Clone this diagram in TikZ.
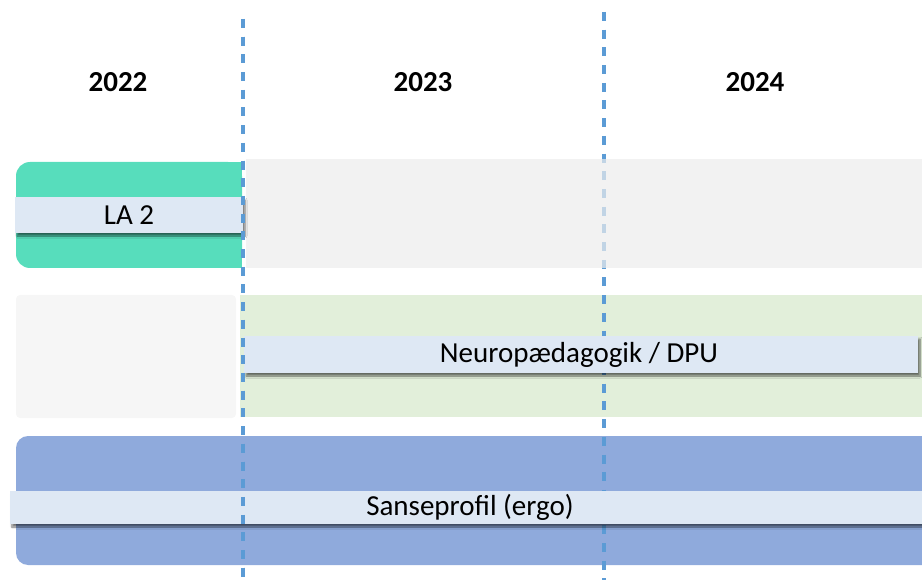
\documentclass[tikz,border=0pt]{standalone}
\usepackage{fontspec}
\setmainfont{Carlito}
\usetikzlibrary{shadows.blur}
\definecolor{tealgreen}{RGB}{87,221,188}
\definecolor{rowgray}{RGB}{237,237,237}
\definecolor{palegray}{RGB}{246,246,246}
\definecolor{palegreen}{RGB}{226,239,218}
\definecolor{labelblue}{RGB}{222,232,244}
\definecolor{bandblue}{RGB}{143,170,220}
\definecolor{dashblue}{RGB}{91,155,213}
\begin{document}
\begin{tikzpicture}[x=1pt,y=-1pt,
  year/.style={font=\fontsize{29}{32}\selectfont\bfseries, text=black},
  bar/.style={fill=labelblue, draw=none, inner sep=0pt,
    font=\fontsize{29}{32}\selectfont, text=black,
    blur shadow={shadow xshift=2pt, shadow yshift=-3pt, shadow blur radius=2pt, shadow blur steps=6, shadow opacity=55}},
  yearline/.style={dashblue, line width=3.4pt, dash pattern=on 9pt off 8.7pt}]
\useasboundingbox (0,0) rectangle (922,580);
% year labels
\node[year] (y22) at (118,82) {2022};
\node[year] (y23) at (423,82) {2023};
\node[year] (y24) at (755,82) {2024};
% row 1
\fill[tealgreen, rounded corners=14pt] (16,162) rectangle (242,268);
\fill[tealgreen] (120,162) rectangle (242,268);
% row 2
\fill[palegray, rounded corners=4pt] (16,295) rectangle (236,418);
\fill[palegreen] (240,295) rectangle (922,417);
% row 3
\fill[bandblue, rounded corners=12pt] (16,436) rectangle (950,565);
% dashed year separators
\coordinate (s1top) at (243,19);
\coordinate (s1bot) at (243,580);
\coordinate (s2top) at (604,12);
\coordinate (s2bot) at (604,580);
\draw[yearline] (s1top) -- (s1bot);
\draw[yearline] (s2top) -- (s2bot);
% row 1 gray band (semi-transparent over the 2024 line)
\fill[rowgray, opacity=0.7] (246,159) rectangle (922,268);
% label bars
\node[bar, minimum width=228pt, minimum height=36pt] (la2) at (129,215) {LA 2};
\node[bar, minimum width=674pt, minimum height=37pt] (neuro) at (581,354.5) {\hspace*{-4pt}Neuropædagogik / DPU};
\node[bar, minimum width=912pt, minimum height=33pt] (sanse) at (466,507.5) {\hspace*{8pt}Sanseprofil (ergo)};
% lines visible over the bars
\draw[yearline] (s1top) -- (s1bot);
\draw[yearline] (s2bot) -- ([yshift=-148pt]s2bot);
\end{tikzpicture}
\end{document}
